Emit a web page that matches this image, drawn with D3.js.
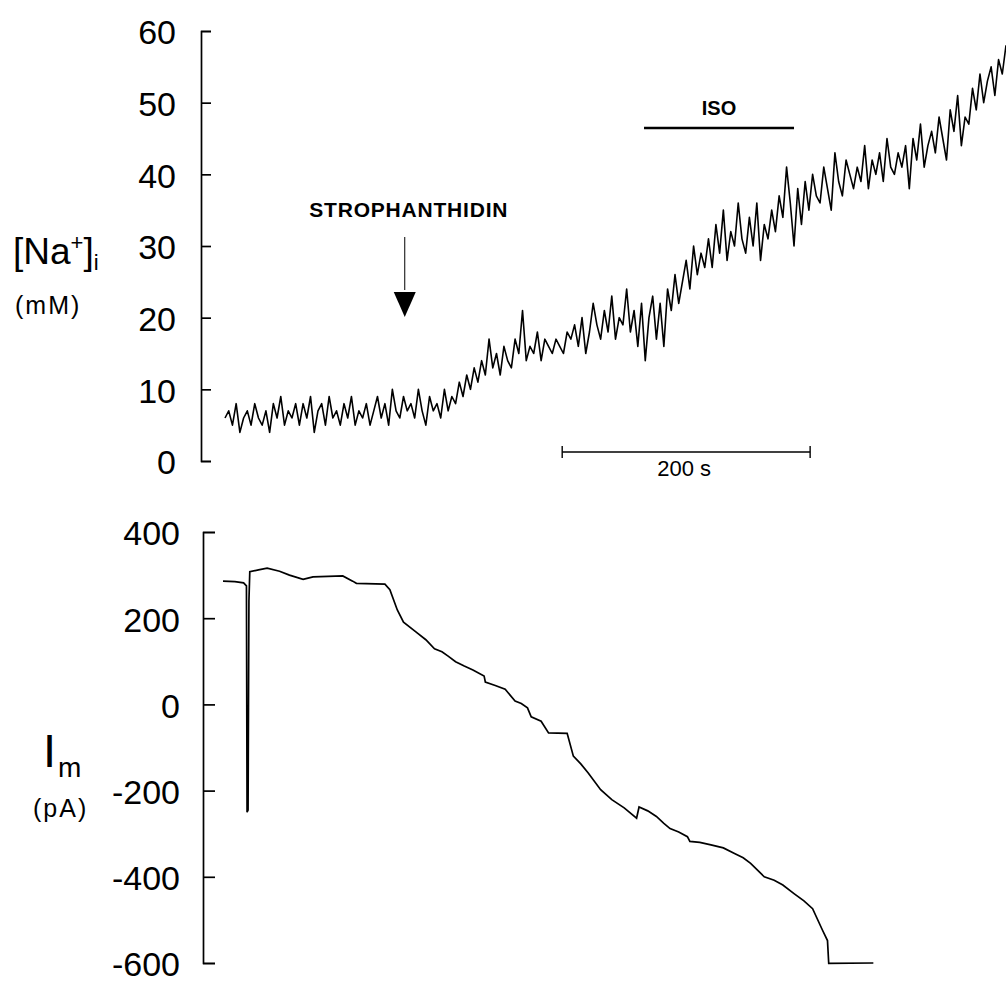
<!DOCTYPE html>
<html>
<head>
<meta charset="utf-8">
<script src="https://cdn.jsdelivr.net/npm/d3@7"></script>
<style>
  body { margin: 0; background: #fff; }
  svg { display: block; font-family: "Liberation Sans", Arial, Helvetica, sans-serif; }
  .axis path, .axis line { stroke: #000; stroke-width: 1.7; }
  .axis text { font-size: 34px; fill: #000; }
  .trace { fill: none; stroke: #000; }
</style>
</head>
<body>
<div id="plot"></div>
<script>
// Define SVG area dimensions
var svgWidth = 1006;
var svgHeight = 984;

// [Na+]i trace, one sample every 3 s (mM)
var naStep = 3;
var naValues = [
  6, 7, 5, 8, 4, 6, 7, 5, 8, 6,
  5, 7, 4, 8, 6, 9, 5, 7, 6, 8,
  5, 8, 6, 9, 4, 7, 8, 5, 9, 6,
  7, 5, 8, 6, 9, 5, 7, 6, 8, 5,
  7, 9, 6, 8, 5, 10, 7, 6, 9, 7,
  8, 6, 10, 7, 5, 9, 7, 8, 6, 10,
  7, 9, 8, 11, 9, 12, 10, 13, 11, 14,
  12, 17, 13, 15, 12, 16, 14, 13, 17, 15,
  21, 14, 16, 15, 18, 14, 17, 16, 15, 17,
  16, 15, 18, 17, 19, 16, 20, 15, 18, 22,
  19, 17, 21, 18, 23, 17, 20, 19, 24, 18,
  21, 16, 22, 14, 20, 23, 17, 22, 16, 24,
  21, 26, 22, 25, 28, 24, 30, 26, 29, 27,
  31, 27, 33, 29, 35, 28, 32, 30, 36, 31,
  29, 34, 30, 36, 28, 33, 31, 35, 32, 37,
  34, 41, 36, 30, 38, 33, 39, 35, 40, 37,
  36, 41, 38, 35, 43, 39, 37, 42, 40, 38,
  41, 39, 44, 38, 42, 40, 43, 39, 45, 41,
  40, 43, 41, 44, 38, 45, 42, 47, 41, 44,
  46, 43, 48, 45, 42, 49, 46, 51, 44, 48,
  47, 52, 49, 54, 50, 53, 55, 51, 56, 54,
  58
];

// membrane current trace (time in s, current in pA)
var imTimes = [-1.6, 8, 15, 17.3, 17.8, 18.6, 19.3, 20, 27, 34, 44, 52, 63, 71, 95, 103, 106,
  129, 133, 139, 144, 155, 162, 169, 175, 180, 186, 193, 200, 209, 210, 218, 226, 234, 239, 244, 247, 255, 261, 276, 281,
  287, 293, 303, 312, 322, 332, 334, 341, 348, 354, 359, 366, 373, 375, 383, 392, 402, 411, 418, 424, 435, 443, 450, 459, 467, 474, 482, 486,
  487, 523];
var imValues = [286, 285, 282, 275, -250, -245, 240, 308, 312, 316, 309, 300, 290, 296, 298, 286, 281,
  279, 266, 219, 191, 166, 150, 129, 122, 112, 99, 89, 80, 66, 52, 44, 35, 8, 2, -8, -29, -39, -66, -67, -120,
  -138, -159, -198, -221, -240, -264, -238, -247, -260, -276, -288, -296, -307, -318, -320, -326, -333, -346, -356, -369, -400, -408, -419, -439, -456, -474, -524, -548,
  -601, -600];

// tick values
var naTicks = [0, 10, 20, 30, 40, 50, 60];
var imTicks = [-600, -400, -200, 0, 200, 400];

// annotations (times in s)
var strophTime = 145;
var isoStart = 338;
var isoEnd = 459;
var barStart = 272;
var barLength = 200;

var svg = d3.select("#plot")
  .append("svg")
  .attr("width", svgWidth)
  .attr("height", svgHeight);

// shared time scale
var xScale = d3.scaleLinear()
  .domain([0, 630])
  .range([225, 1006]);

var yNa = d3.scaleLinear()
  .domain([0, 60])
  .range([461, 31]);

var yIm = d3.scaleLinear()
  .domain([-600, 400])
  .range([963, 532]);

// axes, ticks pointing inward
svg.append("g")
  .attr("class", "axis")
  .attr("transform", "translate(201,0)")
  .call(d3.axisLeft(yNa).tickValues(naTicks).tickSize(-10).tickPadding(25).tickFormat(d => String(d)));

svg.append("g")
  .attr("class", "axis")
  .attr("transform", "translate(203,0)")
  .call(d3.axisLeft(yIm).tickValues(imTicks).tickSize(-12).tickPadding(23).tickFormat(d => String(d)));

svg.selectAll(".axis text")
  .attr("dy", "0.38em")
  .attr("font-family", null);

// traces
var naLine = d3.line()
  .x((d, i) => xScale(i * naStep))
  .y(d => yNa(d));

svg.append("path")
  .attr("class", "trace")
  .attr("stroke-width", 1.6)
  .attr("stroke-linejoin", "round")
  .attr("d", naLine(naValues));

var imLine = d3.line()
  .x((d, i) => xScale(imTimes[i]))
  .y(d => yIm(d));

svg.append("path")
  .attr("class", "trace")
  .attr("stroke-width", 1.7)
  .attr("d", imLine(imValues));

// y labels
var naLabel = svg.append("text")
  .attr("x", 13)
  .attr("y", 264)
  .attr("font-size", 37);
naLabel.append("tspan").text("[Na");
naLabel.append("tspan").attr("font-size", 22).attr("dy", -14).text("+");
naLabel.append("tspan").attr("dy", 14).text("]");
naLabel.append("tspan").attr("font-size", 22).attr("dy", 6).text("i");

svg.append("text")
  .attr("x", 15)
  .attr("y", 314)
  .attr("font-size", 25)
  .attr("letter-spacing", 2)
  .text("(mM)");

svg.append("text")
  .attr("x", 43)
  .attr("y", 767)
  .attr("font-size", 47)
  .text("I");

svg.append("text")
  .attr("x", 58)
  .attr("y", 777)
  .attr("font-size", 28)
  .text("m");

svg.append("text")
  .attr("x", 33)
  .attr("y", 817)
  .attr("font-size", 25)
  .attr("letter-spacing", 2)
  .text("(pA)");

// strophanthidin arrow
var ax = xScale(strophTime);
svg.append("text")
  .attr("x", ax + 4)
  .attr("y", 217)
  .attr("text-anchor", "middle")
  .attr("font-size", 21)
  .attr("font-weight", "bold")
  .attr("letter-spacing", 0.8)
  .text("STROPHANTHIDIN");

svg.append("line")
  .attr("x1", ax).attr("x2", ax)
  .attr("y1", 237).attr("y2", 290)
  .attr("stroke", "#000")
  .attr("stroke-width", 1);

svg.append("path")
  .attr("d", `M${ax - 11},292 L${ax + 11},292 L${ax},317 Z`)
  .attr("fill", "#000");

// ISO bar
svg.append("line")
  .attr("x1", xScale(isoStart)).attr("x2", xScale(isoEnd))
  .attr("y1", 128).attr("y2", 128)
  .attr("stroke", "#000")
  .attr("stroke-width", 2.6);

svg.append("text")
  .attr("x", (xScale(isoStart) + xScale(isoEnd)) / 2)
  .attr("y", 115)
  .attr("text-anchor", "middle")
  .attr("font-size", 20)
  .attr("font-weight", "bold")
  .text("ISO");

// 200 s scale bar
var b0 = xScale(barStart);
var b1 = xScale(barStart + barLength);
var bar = svg.append("g").attr("stroke", "#000");
bar.append("line").attr("x1", b0).attr("x2", b1).attr("y1", 452).attr("y2", 452).attr("stroke-width", 1.6);
bar.append("line").attr("x1", b0).attr("x2", b0).attr("y1", 446).attr("y2", 458).attr("stroke-width", 1.4);
bar.append("line").attr("x1", b1).attr("x2", b1).attr("y1", 446).attr("y2", 458).attr("stroke-width", 1.4);

svg.append("text")
  .attr("x", (b0 + b1) / 2 - 2)
  .attr("y", 476)
  .attr("text-anchor", "middle")
  .attr("font-size", 22)
  .text("200 s");
</script>
</body>
</html>
